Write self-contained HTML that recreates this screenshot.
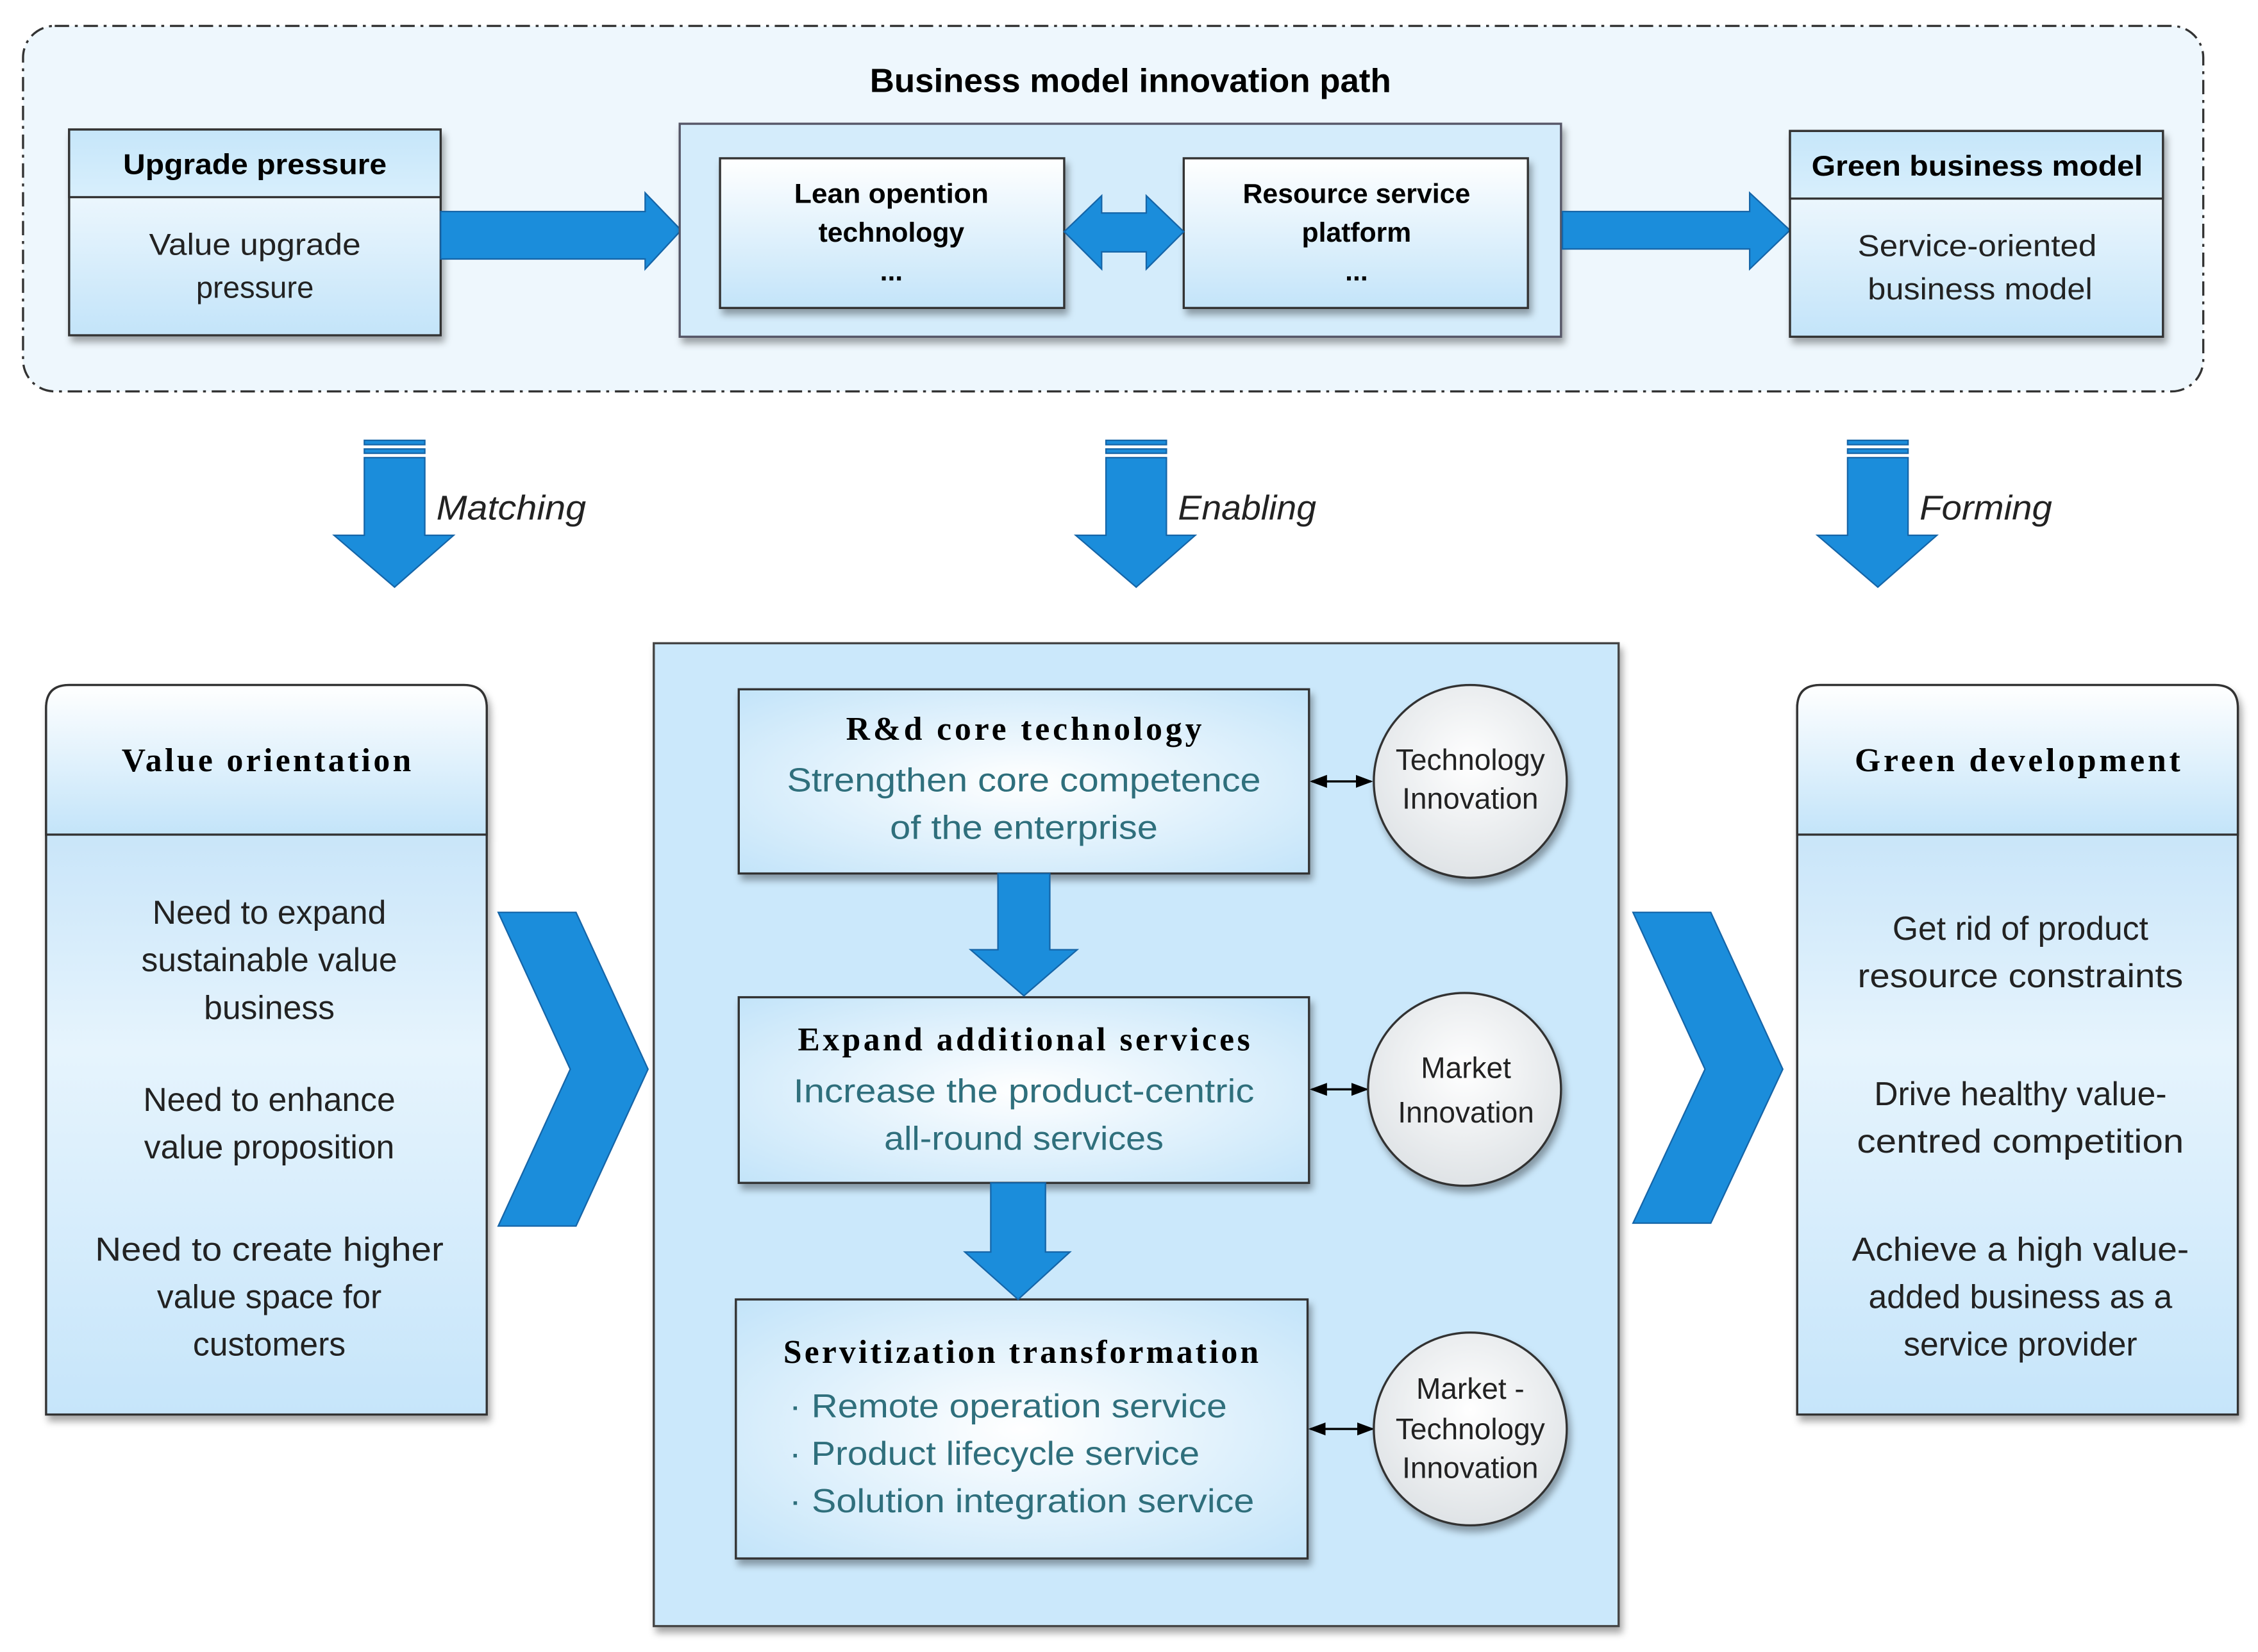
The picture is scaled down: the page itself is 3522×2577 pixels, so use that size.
<!DOCTYPE html>
<html><head><meta charset="utf-8"><style>html,body{margin:0;padding:0;background:#fff}svg{display:block}</style></head>
<body>
<svg width="3522" height="2577" viewBox="0 0 1568 1148" preserveAspectRatio="none" xmlns="http://www.w3.org/2000/svg" font-family="'Liberation Sans', sans-serif">
<defs>
<linearGradient id="g1" x1="0" y1="0" x2="0" y2="1"><stop offset="0" stop-color="#ffffff"/><stop offset="1" stop-color="#c3e4f9"/></linearGradient>
<linearGradient id="gh" x1="0" y1="0" x2="0" y2="1"><stop offset="0" stop-color="#c6e6fa"/><stop offset="1" stop-color="#d8effc"/></linearGradient>
<radialGradient id="gb" cx="0.5" cy="0.5" r="0.7"><stop offset="0" stop-color="#ffffff"/><stop offset="1" stop-color="#c3e4f9"/></radialGradient>
<linearGradient id="gp" x1="0" y1="0" x2="0" y2="1"><stop offset="0" stop-color="#b5dbf6"/><stop offset="0.5" stop-color="#e6f4fd"/><stop offset="1" stop-color="#c6e5fa"/></linearGradient>
<radialGradient id="gc" cx="0.5" cy="0.4" r="0.6"><stop offset="0" stop-color="#ffffff"/><stop offset="1" stop-color="#dfe3e6"/></radialGradient>
<filter id="sh" x="-10%" y="-10%" width="130%" height="130%"><feDropShadow dx="2" dy="4" stdDeviation="2.5" flood-color="#000" flood-opacity="0.35"/></filter>
<marker id="ah" markerWidth="8" markerHeight="8" refX="7" refY="4" orient="auto-start-reverse"><path d="M0,1 L8,4 L0,7 z" fill="#000"/></marker>
</defs>

<rect x="16" y="18" width="1514" height="254" rx="22" fill="#eef7fd" stroke="#333" stroke-width="1.5" stroke-dasharray="10,4,2,4"/>
<text x="785" y="64" font-size="23" font-weight="bold" text-anchor="middle" textLength="362" lengthAdjust="spacingAndGlyphs">Business model innovation path</text>

<g filter="url(#sh)">
<rect x="48" y="90" width="258" height="143" fill="url(#g1)" stroke="#333" stroke-width="1.5"/>
<rect x="48" y="90" width="258" height="47" fill="url(#gh)" stroke="#333" stroke-width="1.5"/>
</g>
<text x="177" y="121" font-size="20" font-weight="bold" text-anchor="middle" textLength="183" lengthAdjust="spacingAndGlyphs">Upgrade pressure</text>
<text x="177" y="177" font-size="21" text-anchor="middle" fill="#222" textLength="147" lengthAdjust="spacingAndGlyphs">Value upgrade</text>
<text x="177" y="207" font-size="21" text-anchor="middle" fill="#222">pressure</text>

<path d="M306,147 L448,147 L448,134 L473,160 L448,187 L448,180 L306,180 z" fill="#1b8ddb" stroke="#1565a8" stroke-width="1"/>

<rect x="472" y="86" width="612" height="148" fill="#d4ecfb" stroke="#556" stroke-width="1.5" filter="url(#sh)"/>
<g filter="url(#sh)">
<rect x="500" y="110" width="239" height="104" fill="url(#g1)" stroke="#333" stroke-width="1.5"/>
<rect x="822" y="110" width="239" height="104" fill="url(#g1)" stroke="#333" stroke-width="1.5"/>
</g>
<text x="619" y="141" font-size="19" font-weight="bold" text-anchor="middle" textLength="135" lengthAdjust="spacingAndGlyphs">Lean opention</text>
<text x="619" y="168" font-size="19" font-weight="bold" text-anchor="middle">technology</text>
<text x="619" y="195" font-size="19" font-weight="bold" text-anchor="middle">...</text>
<text x="942" y="141" font-size="19" font-weight="bold" text-anchor="middle" textLength="158" lengthAdjust="spacingAndGlyphs">Resource service</text>
<text x="942" y="168" font-size="19" font-weight="bold" text-anchor="middle">platform</text>
<text x="942" y="195" font-size="19" font-weight="bold" text-anchor="middle">...</text>
<path d="M739,161 L765,136 L765,148 L796,148 L796,136 L822,161 L796,187 L796,175 L765,175 L765,187 z" fill="#1b8ddb" stroke="#1565a8" stroke-width="1"/>

<path d="M1085,147 L1215,147 L1215,134 L1243,160 L1215,187 L1215,173 L1085,173 z" fill="#1b8ddb" stroke="#1565a8" stroke-width="1"/>

<g filter="url(#sh)">
<rect x="1243" y="91" width="259" height="143" fill="url(#g1)" stroke="#333" stroke-width="1.5"/>
<rect x="1243" y="91" width="259" height="47" fill="url(#gh)" stroke="#333" stroke-width="1.5"/>
</g>
<text x="1373" y="122" font-size="20" font-weight="bold" text-anchor="middle" textLength="230" lengthAdjust="spacingAndGlyphs">Green business model</text>
<text x="1373" y="178" font-size="21" text-anchor="middle" fill="#222" textLength="166" lengthAdjust="spacingAndGlyphs">Service-oriented</text>
<text x="1375" y="208" font-size="21" text-anchor="middle" fill="#222" textLength="156" lengthAdjust="spacingAndGlyphs">business model</text>

<g fill="#1b8ddb" stroke="#1565a8" stroke-width="1">
<rect x="253" y="306" width="42" height="3"/><rect x="253" y="312" width="42" height="3"/>
<path d="M253,318 L295,318 L295,372 L315,372 L274,408 L232,372 L253,372 z"/>
<rect x="768" y="306" width="42" height="3"/><rect x="768" y="312" width="42" height="3"/>
<path d="M768,318 L810,318 L810,372 L830,372 L789,408 L747,372 L768,372 z"/>
<rect x="1283" y="306" width="42" height="3"/><rect x="1283" y="312" width="42" height="3"/>
<path d="M1283,318 L1325,318 L1325,372 L1345,372 L1304,408 L1262,372 L1283,372 z"/>
</g>
<g font-size="24" font-style="italic" fill="#222">
<text x="303" y="361" textLength="104" lengthAdjust="spacingAndGlyphs">Matching</text>
<text x="818" y="361" textLength="96" lengthAdjust="spacingAndGlyphs">Enabling</text>
<text x="1333" y="361" textLength="92" lengthAdjust="spacingAndGlyphs">Forming</text>
</g>

<g filter="url(#sh)">
<path d="M32,983 L32,492 Q32,476 48,476 L322,476 Q338,476 338,492 L338,983 z" fill="url(#gp)" stroke="#333" stroke-width="1.5"/>
<path d="M32,580 L32,492 Q32,476 48,476 L322,476 Q338,476 338,492 L338,580 z" fill="url(#g1)" stroke="#333" stroke-width="1.5"/>
</g>
<text x="185" y="536" font-size="23" font-weight="bold" text-anchor="middle" font-family="'Liberation Serif', serif" textLength="201" lengthAdjust="spacing">Value orientation</text>
<g font-size="23" text-anchor="middle" fill="#222">
<text x="187" y="642">Need to expand</text>
<text x="187" y="675">sustainable value</text>
<text x="187" y="708">business</text>
<text x="187" y="772">Need to enhance</text>
<text x="187" y="805">value proposition</text>
<text x="187" y="876" textLength="242" lengthAdjust="spacingAndGlyphs">Need to create higher</text>
<text x="187" y="909">value space for</text>
<text x="187" y="942">customers</text>
</g>

<g filter="url(#sh)">
<path d="M1248,983 L1248,492 Q1248,476 1264,476 L1538,476 Q1554,476 1554,492 L1554,983 z" fill="url(#gp)" stroke="#333" stroke-width="1.5"/>
<path d="M1248,580 L1248,492 Q1248,476 1264,476 L1538,476 Q1554,476 1554,492 L1554,580 z" fill="url(#g1)" stroke="#333" stroke-width="1.5"/>
</g>
<text x="1401" y="536" font-size="23" font-weight="bold" text-anchor="middle" font-family="'Liberation Serif', serif" textLength="226" lengthAdjust="spacing">Green development</text>
<g font-size="23" text-anchor="middle" fill="#222">
<text x="1403" y="653">Get rid of product</text>
<text x="1403" y="686" textLength="226" lengthAdjust="spacingAndGlyphs">resource constraints</text>
<text x="1403" y="768">Drive healthy value-</text>
<text x="1403" y="801" textLength="227" lengthAdjust="spacingAndGlyphs">centred competition</text>
<text x="1403" y="876" textLength="234" lengthAdjust="spacingAndGlyphs">Achieve a high value-</text>
<text x="1403" y="909">added business as a</text>
<text x="1403" y="942">service provider</text>
</g>

<path d="M346,634 L400,634 L450,743 L400,852 L346,852 L396,743 z" fill="#1b8ddb" stroke="#1565a8" stroke-width="1"/>
<path d="M1134,634 L1188,634 L1238,743 L1188,850 L1134,850 L1184,743 z" fill="#1b8ddb" stroke="#1565a8" stroke-width="1"/>

<rect x="454" y="447" width="670" height="683" fill="#cbe8fb" stroke="#444" stroke-width="1.5" filter="url(#sh)"/>
<g filter="url(#sh)">
<rect x="513" y="479" width="396" height="128" fill="url(#gb)" stroke="#333" stroke-width="1.5"/>
<rect x="513" y="693" width="396" height="129" fill="url(#gb)" stroke="#333" stroke-width="1.5"/>
<rect x="511" y="903" width="397" height="180" fill="url(#gb)" stroke="#333" stroke-width="1.5"/>
</g>
<g fill="#1b8ddb" stroke="#1565a8" stroke-width="1">
<path d="M693,607 L729,607 L729,660 L748,660 L711,692 L674,660 L693,660 z"/>
<path d="M688,822 L726,822 L726,870 L743,870 L707,903 L670,870 L688,870 z"/>
</g>
<g font-family="'Liberation Serif', serif" font-weight="bold" font-size="23" text-anchor="middle">
<text x="711" y="514" textLength="247" lengthAdjust="spacing">R&amp;d core technology</text>
<text x="711" y="730" textLength="314" lengthAdjust="spacing">Expand additional services</text>
<text x="709" y="947" textLength="330" lengthAdjust="spacing">Servitization transformation</text>
</g>
<g font-size="23" fill="#2f6f7c" text-anchor="middle">
<text x="711" y="550" textLength="329" lengthAdjust="spacingAndGlyphs">Strengthen  core competence</text>
<text x="711" y="583" textLength="186" lengthAdjust="spacingAndGlyphs">of the enterprise</text>
<text x="711" y="766" textLength="320" lengthAdjust="spacingAndGlyphs">Increase  the product-centric</text>
<text x="711" y="799" textLength="194" lengthAdjust="spacingAndGlyphs">all-round services</text>
</g>
<g font-size="23" fill="#2f6f7c">
<text x="548" y="985" textLength="304" lengthAdjust="spacingAndGlyphs">· Remote operation service</text>
<text x="548" y="1018" textLength="285" lengthAdjust="spacingAndGlyphs">· Product lifecycle service</text>
<text x="548" y="1051" textLength="323" lengthAdjust="spacingAndGlyphs">· Solution integration service</text>
</g>

<g stroke="#000" stroke-width="1.5" marker-start="url(#ah)" marker-end="url(#ah)">
<line x1="911" y1="543" x2="952" y2="543"/>
<line x1="911" y1="757" x2="949" y2="757"/>
<line x1="910" y1="993" x2="953" y2="993"/>
</g>
<g filter="url(#sh)" fill="url(#gc)" stroke="#333" stroke-width="1.5">
<circle cx="1021" cy="543" r="67"/>
<circle cx="1017" cy="757" r="67"/>
<circle cx="1021" cy="993" r="67"/>
</g>
<g font-size="20.5" text-anchor="middle" fill="#222">
<text x="1021" y="535">Technology</text>
<text x="1021" y="562">Innovation</text>
<text x="1018" y="749">Market</text>
<text x="1018" y="780">Innovation</text>
<text x="1021" y="972">Market -</text>
<text x="1021" y="1000">Technology</text>
<text x="1021" y="1027">Innovation</text>
</g>
</svg>
</body></html>
